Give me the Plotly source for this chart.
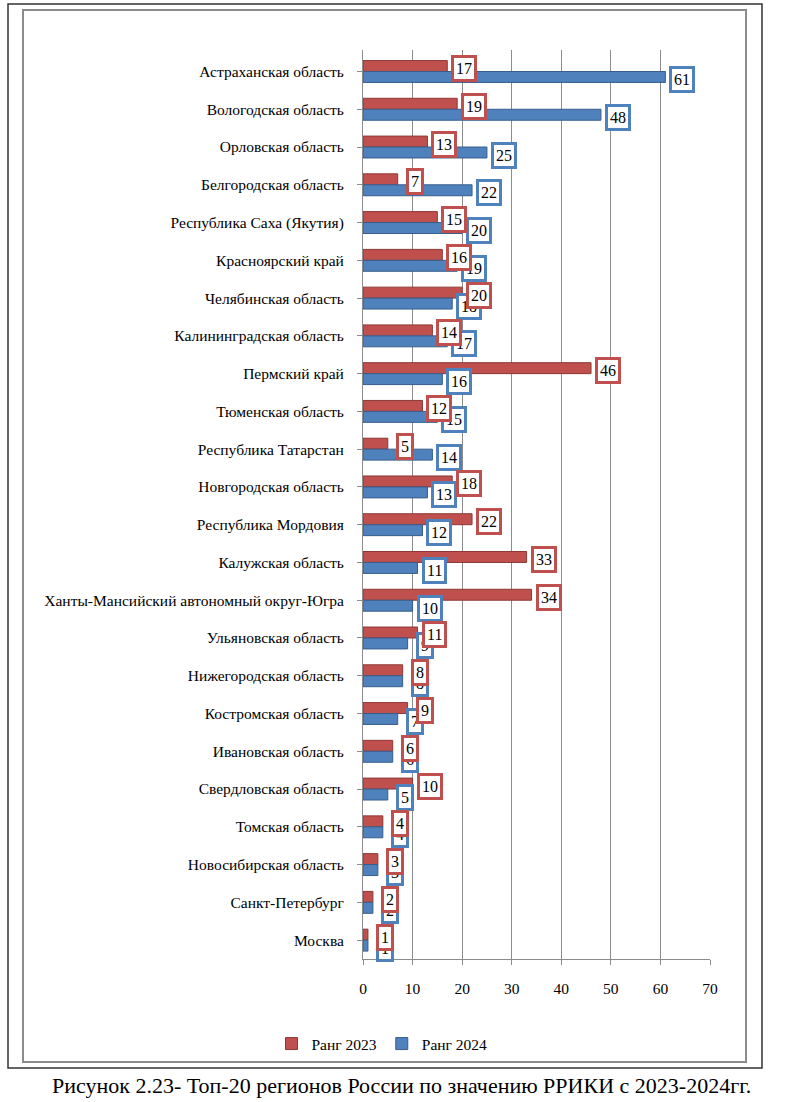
import plotly.graph_objects as go

regions = [
    "Астраханская область", "Вологодская область", "Орловская область",
    "Белгородская область", "Республика Саха (Якутия)", "Красноярский край",
    "Челябинская область", "Калининградская область", "Пермский край",
    "Тюменская область", "Республика Татарстан", "Новгородская область",
    "Республика Мордовия", "Калужская область",
    "Ханты-Мансийский автономный округ-Югра", "Ульяновская область",
    "Нижегородская область", "Костромская область", "Ивановская область",
    "Свердловская область", "Томская область", "Новосибирская область",
    "Санкт-Петербург", "Москва",
]
rank_2023 = [17, 19, 13, 7, 15, 16, 20, 14, 46, 12, 5, 18, 22, 33, 34, 11, 8, 9, 6, 10, 4, 3, 2, 1]
rank_2024 = [61, 48, 25, 22, 20, 19, 18, 17, 16, 15, 14, 13, 12, 11, 10, 9, 8, 7, 6, 5, 4, 3, 2, 1]
x_ticks = [0, 10, 20, 30, 40, 50, 60, 70]

RED, RED_DARK = "#C0504D", "#8C3836"
BLUE, BLUE_DARK = "#4F81BD", "#385D8A"
FONT = "'Liberation Serif', 'Times New Roman', serif"
SERIF = dict(family=FONT, size=15.5, color="black")

W, H = 800, 1102
ML, MR, MT, MB = 363, 90, 50, 143
PW, PH = W - ML - MR, H - MT - MB


def px(x):
    return (x - ML) / PW


def py(y):
    return (H - MB - y) / PH


fig = go.Figure()
fig.add_trace(go.Bar(
    name="Ранг 2023", y=regions, x=rank_2023, orientation="h",
    marker=dict(color=RED, line=dict(color=RED_DARK, width=1)),
))
fig.add_trace(go.Bar(
    name="Ранг 2024", y=regions, x=rank_2024, orientation="h",
    marker=dict(color=BLUE, line=dict(color=BLUE_DARK, width=1)),
))

annotations = []
for r, v in zip(regions, rank_2024):
    annotations.append(dict(
        x=v, y=r, xref="x", yref="y", text=str(v), showarrow=False,
        xshift=17, yshift=-8, xanchor="center", yanchor="middle",
        font=dict(family=FONT, size=16, color="black"),
        bgcolor="white", bordercolor=BLUE, borderwidth=3, borderpad=2,
    ))
for r, v in zip(regions, rank_2023):
    annotations.append(dict(
        x=v, y=r, xref="x", yref="y", text=str(v), showarrow=False,
        xshift=17, yshift=3, xanchor="center", yanchor="middle",
        font=dict(family=FONT, size=16, color="black"),
        bgcolor="white", bordercolor=RED, borderwidth=3, borderpad=2,
    ))
annotations.append(dict(
    x=px(401), y=py(1085), xref="paper", yref="paper",
    text="Рисунок 2.23- Топ-20 регионов России по значению РРИКИ с 2023-2024гг.",
    showarrow=False, xanchor="center", yanchor="middle",
    font=dict(family=FONT, size=22, color="black"),
))

shapes = [
    dict(type="rect", xref="paper", yref="paper",
         x0=px(8), x1=px(762), y0=py(1068), y1=py(4),
         line=dict(color="#333333", width=1.5), layer="below"),
    dict(type="rect", xref="paper", yref="paper",
         x0=px(23), x1=px(746), y0=py(1062), y1=py(10),
         line=dict(color="#8C8C8C", width=2), layer="below"),
]

fig.update_layout(
    width=W, height=H,
    margin=dict(l=ML, r=MR, t=MT, b=MB, autoexpand=False),
    paper_bgcolor="white", plot_bgcolor="white",
    barmode="group", bargap=0.42, bargroupgap=0,
    font=SERIF,
    showlegend=True,
    legend=dict(orientation="h", x=px(382), y=py(1044), xanchor="center",
                yanchor="middle", font=SERIF,
                traceorder="normal", itemwidth=30),
    annotations=annotations,
    shapes=shapes,
    xaxis=dict(
        range=[0, 70], tickvals=x_ticks, showgrid=True, gridcolor="#8C8C8C",
        gridwidth=1, zeroline=False, showline=True, linecolor="#8C8C8C",
        ticks="outside", ticklen=5, tickcolor="#8C8C8C", ticklabelstandoff=10,
        tickfont=SERIF,
    ),
    yaxis=dict(
        autorange="reversed", showline=True, linecolor="#8C8C8C", linewidth=1,
        ticks="outside", ticklen=5, tickcolor="#8C8C8C", ticklabelstandoff=10,
        tickfont=SERIF, showgrid=False,
    ),
)

fig.write_html("out.html", config={"displayModeBar": False},
               post_script="document.body.style.margin='0px';")
